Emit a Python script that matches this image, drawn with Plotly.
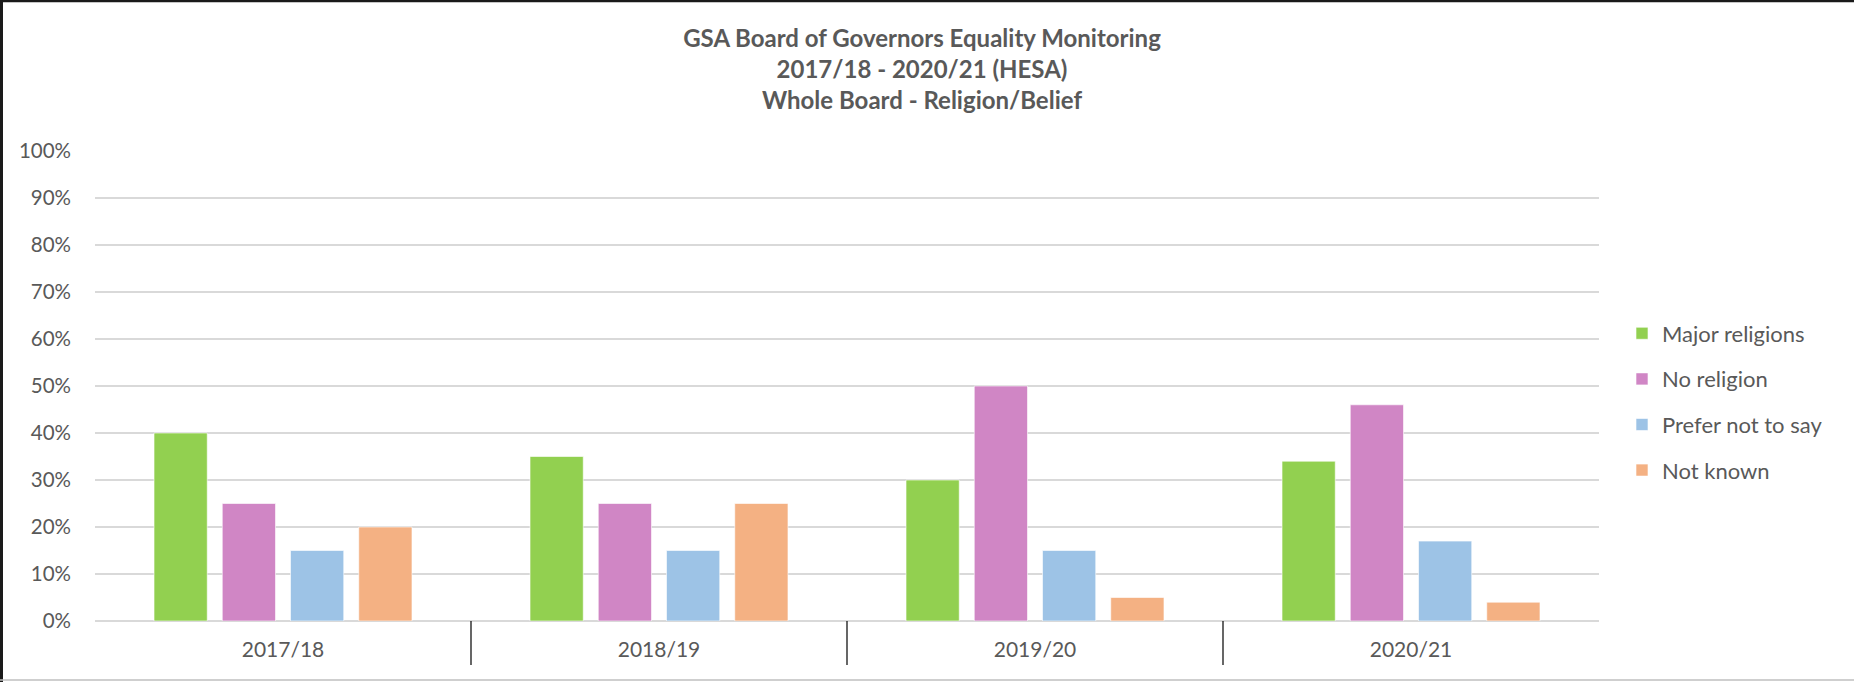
import plotly.graph_objects as go

categories = ["2017/18", "2018/19", "2019/20", "2020/21"]
major_religions = [40, 35, 30, 34]
no_religion = [25, 25, 50, 46]
prefer_not_to_say = [15, 15, 15, 17]
not_known = [20, 25, 5, 4]
series_names = ["Major religions", "No religion", "Prefer not to say", "Not known"]
y_ticks = [0, 10, 20, 30, 40, 50, 60, 70, 80, 90, 100]
y_tick_labels = [f"{v}%" for v in y_ticks]

colors = ["#92D050", "#D086C5", "#9DC3E6", "#F4B183"]
W, H = 1854, 682
ml, mr, mt, mb = 95, 255, 151, 61
FONT = "Lato"
GREY = "#595959"

fig = go.Figure()
for i, (name, vals) in enumerate(zip(series_names, [major_religions, no_religion, prefer_not_to_say, not_known])):
    fig.add_trace(go.Bar(
        x=categories, y=vals, name=name, legendgroup=name,
        marker=dict(color=colors[i], line=dict(color="rgba(255,255,255,0.6)", width=1)),
    ))

pw = W - ml - mr
ph = H - mt - mb
shapes = []
# category dividers
for k in range(1, len(categories)):
    shapes.append(dict(type="line", xref="x", yref="paper", x0=k - 0.5, x1=k - 0.5,
                       y0=0, y1=-44 / ph, line=dict(color="#000000", width=1.2)))
# outer border
shapes.append(dict(type="line", xref="paper", yref="paper", x0=-ml / pw, x1=(pw + mr) / pw,
                   y0=(ph + mt - 1) / ph, y1=(ph + mt - 1) / ph, line=dict(color="#1a1a1a", width=2.5)))
shapes.append(dict(type="line", xref="paper", yref="paper", x0=(-ml + 1.5) / pw, x1=(-ml + 1.5) / pw,
                   y0=(-mb) / ph, y1=(ph + mt) / ph, line=dict(color="#1a1a1a", width=3)))
shapes.append(dict(type="line", xref="paper", yref="paper", x0=-ml / pw, x1=(pw + mr) / pw,
                   y0=(-mb + 2) / ph, y1=(-mb + 2) / ph, line=dict(color="#BFBFBF", width=1.5)))

fig.update_layout(
    width=W, height=H,
    margin=dict(l=ml, r=mr, t=mt, b=mb),
    paper_bgcolor="white", plot_bgcolor="white",
    barmode="group", bargap=0.274, bargroupgap=0.22,
    title=dict(
        text="GSA Board of Governors Equality Monitoring<br>2017/18 - 2020/21 (HESA)<br>Whole Board - Religion/Belief",
        x=922 / W, xanchor="center", y=1 - 47 / H, yanchor="top",
        font=dict(family=FONT, size=24, color=GREY, weight="bold"),
    ),
    font=dict(family=FONT, size=21, color=GREY),
    xaxis=dict(showgrid=False, showline=False, ticks="", tickfont=dict(size=21, color=GREY),
               ticklabelstandoff=14),
    yaxis=dict(range=[0, 100], tickvals=y_ticks, ticktext=y_tick_labels, showgrid=True,
               gridcolor="#D9D9D9", gridwidth=1.5, zeroline=True, zerolinecolor="#D9D9D9",
               zerolinewidth=1.5, showline=False, ticks="", tickfont=dict(size=20.5, color=GREY),
               ticklabelstandoff=23),
    legend=dict(x=1.0153, xanchor="left", y=0.466, yanchor="middle", traceorder="grouped",
                tracegroupgap=14, font=dict(size=22, color=GREY), itemwidth=30,
                bgcolor="rgba(0,0,0,0)"),
    shapes=shapes,
)

fig.write_html("out.html", config={"displayModeBar": False},
               post_script="document.body.style.margin='0';document.body.style.padding='0';")
